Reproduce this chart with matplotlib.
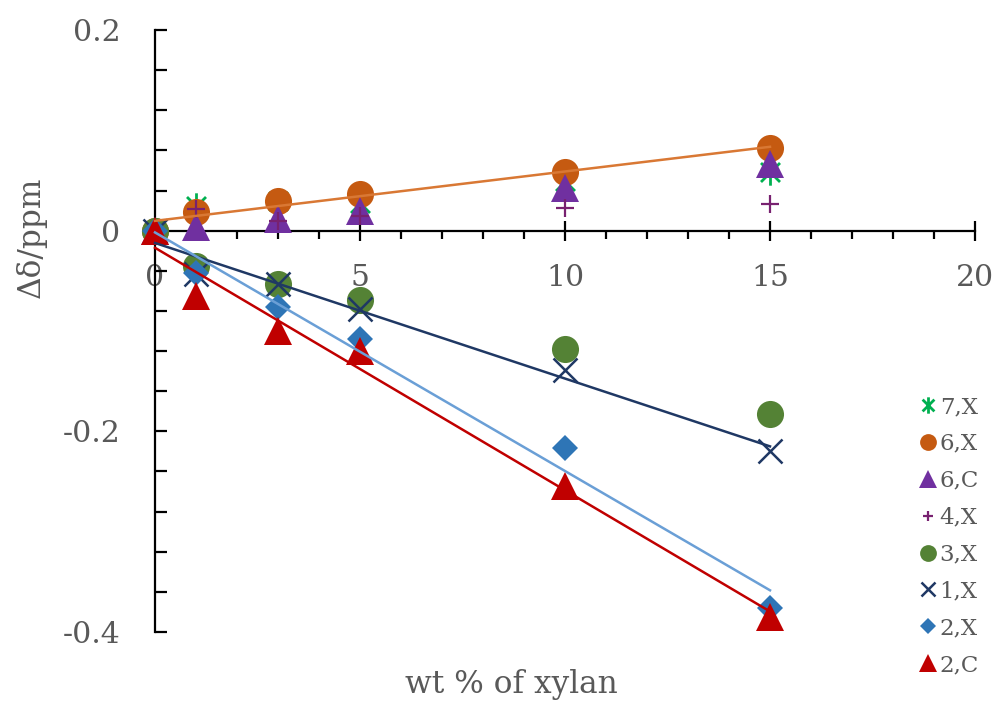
import numpy as np
import matplotlib
matplotlib.use("Agg")
import matplotlib.pyplot as plt
from matplotlib.path import Path
from matplotlib.ticker import MultipleLocator, FixedLocator, FixedFormatter

plt.rcParams['font.family'] = ['DejaVu Serif']

# ---- data ----
x = [0, 1, 3, 5, 10, 15]
labels = ["7,X", "6,X", "6,C", "4,X", "3,X", "1,X", "2,X", "2,C"]
y_7X = [0, 0.025, 0.030, 0.028, 0.050, 0.058]
y_6X = [0, 0.019, 0.030, 0.037, 0.058, 0.082]
y_6C = [0, 0.004, 0.012, 0.020, 0.043, 0.066]
y_4X = [0, 0.022, 0.010, 0.015, 0.023, 0.027]
y_3X = [0, -0.035, -0.053, -0.069, -0.118, -0.183]
y_1X = [0, -0.043, -0.053, -0.078, -0.139, -0.220]
y_2X = [0, -0.042, -0.076, -0.108, -0.217, -0.376]
y_2C = [0, -0.065, -0.100, -0.120, -0.254, -0.385]
series = [y_7X, y_6X, y_6C, y_4X, y_3X, y_1X, y_2X, y_2C]
trend_series = ["6,X", "1,X", "2,X", "2,C"]
xticks = [0, 5, 10, 15, 20]
yticks = [-0.4, -0.2, 0, 0.2]
ytick_labels = ["-0.4", "-0.2", "0", "0.2"]

# ---- styles ----
asterisk = Path([(0, -1), (0, 1), (-0.72, -0.72), (0.72, 0.72), (-0.72, 0.72), (0.72, -0.72)],
                [Path.MOVETO, Path.LINETO, Path.MOVETO, Path.LINETO, Path.MOVETO, Path.LINETO])
styles = {
    "7,X": dict(marker=asterisk, color="#00B050", ms=19, mew=2.0, mfc="none"),
    "6,X": dict(marker="o", color="#C55A11", ms=19.5, mew=0),
    "6,C": dict(marker="^", color="#7030A0", ms=20, mew=0),
    "4,X": dict(marker="+", color="#782170", ms=12.5, mew=1.6),
    "3,X": dict(marker="o", color="#548235", ms=19.5, mew=0),
    "1,X": dict(marker="x", color="#1F3864", ms=17, mew=1.8),
    "2,X": dict(marker="D", color="#2E75B6", ms=13.5, mew=0),
    "2,C": dict(marker="^", color="#C00000", ms=20, mew=0),
}
trend_colors = {"6,X": "#D97834", "1,X": "#1F3864", "2,X": "#6A9FD6", "2,C": "#C00000"}

grey = "#595959"
W, H = 997, 706
fig = plt.figure(figsize=(W / 100, H / 100), dpi=100)
ax = fig.add_axes([155 / W, 1 - 632 / H, 820 / W, 602 / H])
ax.set_xlim(0, 20)
ax.set_ylim(-0.4, 0.2)

handles = []
for lab, ys in zip(labels, series):
    st = styles[lab]
    h, = ax.plot(x, ys, linestyle="none", marker=st["marker"], markersize=st["ms"],
                 color=st["color"], markeredgecolor=st["color"],
                 markerfacecolor=st.get("mfc", st["color"]),
                 markeredgewidth=st["mew"], clip_on=False, zorder=3, label=lab)
    handles.append(h)

xs = np.array(x, dtype=float)
for lab in trend_series:
    ys = np.array(series[labels.index(lab)])
    k, b = np.polyfit(xs, ys, 1)
    xl = np.array([xs.min(), xs.max()])
    ax.plot(xl, k * xl + b, color=trend_colors[lab], lw=1.8, zorder=4, clip_on=False)

# spines
ax.spines['top'].set_visible(False)
ax.spines['right'].set_visible(False)
ax.spines['bottom'].set_position(('data', 0))
for s in ('left', 'bottom'):
    ax.spines[s].set_linewidth(1.6)
    ax.spines[s].set_color('black')

ax.xaxis.set_major_locator(FixedLocator(xticks))
ax.xaxis.set_minor_locator(MultipleLocator(1))
ax.yaxis.set_major_locator(FixedLocator(yticks))
ax.yaxis.set_major_formatter(FixedFormatter(ytick_labels))
ax.yaxis.set_minor_locator(MultipleLocator(0.04))

ax.tick_params(axis='x', which='major', direction='inout', length=14, width=1.6,
               pad=17, labelsize=21.5, labelcolor=grey)
ax.tick_params(axis='x', which='minor', direction='out', length=6, width=1.6)
ax.tick_params(axis='y', which='both', direction='in', length=8.5, width=1.6)
ax.tick_params(axis='y', which='major', pad=25, labelsize=21.5, labelcolor=grey)

fig.text(31 / W, 1 - 237 / H, "Δδ/ppm", rotation=90, ha='center', va='center',
         fontsize=22.5, color=grey)
fig.text(511 / W, 1 - 685 / H, "wt % of xylan", ha='center', va='center',
         fontsize=22.5, color=grey)

leg = fig.legend(handles=handles, labels=labels, loc='upper right',
                 bbox_to_anchor=(979 / W, 1 - 396 / H), frameon=False,
                 fontsize=16.5, labelcolor=grey, markerscale=0.62,
                 handlelength=0.9, handletextpad=0.07, labelspacing=0.65,
                 borderpad=0, borderaxespad=0)

fig.savefig("out.png", dpi=100)
